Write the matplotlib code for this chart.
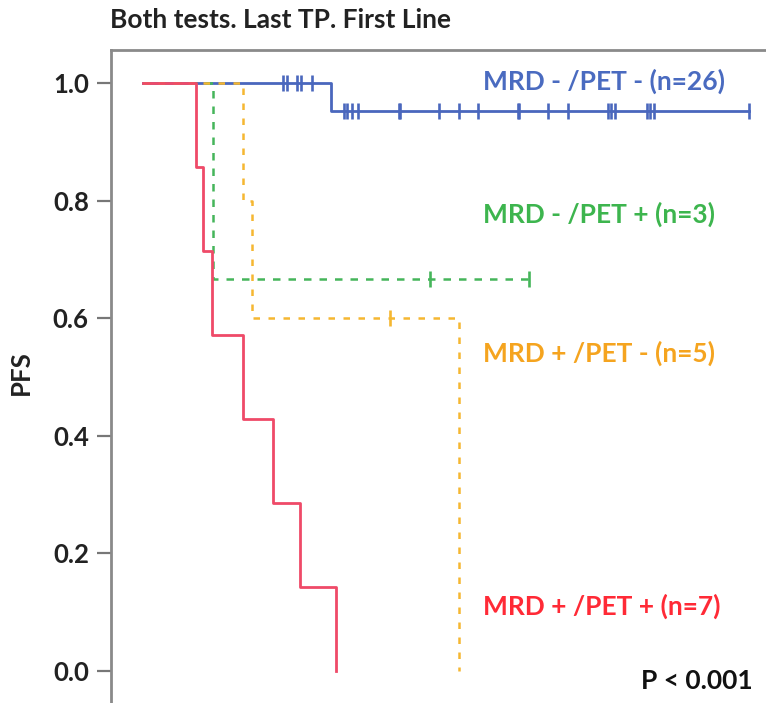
import numpy as np
import matplotlib
matplotlib.use("Agg")
import matplotlib.pyplot as plt

plt.rcParams['font.family'] = ['Lato', 'DejaVu Sans']

# follow-up times (months) and event flags (1 = progression, 0 = censored)
red_times = [5.3, 6.0, 6.9, 10.0, 13.0, 15.7, 19.3]
red_events = [1, 1, 1, 1, 1, 1, 1]

green_times = [7.0, 28.7, 38.6]
green_events = [1, 0, 0]

orange_times = [10.0, 10.9, 24.7, 31.6, 31.6]
orange_events = [1, 1, 0, 1, 1]

blue_times = [14.0, 14.4, 15.4, 15.8, 16.9, 18.8,
              20.1, 20.4, 20.9, 21.5, 25.6, 25.7, 29.6, 31.6, 33.5,
              37.5, 37.6, 40.5, 42.5, 46.5, 46.8, 47.2, 50.4, 50.7, 51.1, 60.6]
blue_events = [0, 0, 0, 0, 0, 1] + [0] * 20

group_labels = ["MRD - /PET - (n=26)", "MRD - /PET + (n=3)",
                "MRD + /PET - (n=5)", "MRD + /PET + (n=7)"]
yticks = [0.0, 0.2, 0.4, 0.6, 0.8, 1.0]


def kaplan_meier(times, events):
    t = np.array(times, dtype=float)
    e = np.array(events)
    order = np.argsort(t, kind="stable")
    t, e = t[order], e[order]
    xs, ys = [0.0], [1.0]
    cens_x, cens_y = [], []
    surv = 1.0
    at_risk = len(t)
    for ut in np.unique(t):
        mask = t == ut
        d = e[mask].sum()
        c = mask.sum() - d
        if d > 0:
            surv *= (at_risk - d) / at_risk
            xs.append(ut)
            ys.append(surv)
        if c > 0:
            cens_x.extend([ut] * c)
            cens_y.extend([surv] * c)
        at_risk -= mask.sum()
    # extend the step to the last follow-up time
    if t.max() > xs[-1]:
        xs.append(t.max())
        ys.append(surv)
    return np.array(xs), np.array(ys), cens_x, cens_y


fig = plt.figure(figsize=(7.66, 7.03), dpi=100)
# axes run past the bottom/right edge of the figure
ax = fig.add_axes([111 / 766, 1 - 50 / 703 - 679.7 / 703, 682 / 766, 679.7 / 703])

series = [
    (blue_times, blue_events, "#4a67bd", "-", None),
    (green_times, green_events, "#45b55a", "--", (3, 3.2)),
    (orange_times, orange_events, "#f5b731", "--", (2.6, 3.4)),
    (red_times, red_events, "#ef4a68", "-", None),
]

for times, events, color, ls, dashes in series:
    xs, ys, cx, cy = kaplan_meier(times, events)
    line, = ax.step(xs, ys, where="post", color=color, lw=2.0 if ls == "-" else 1.8,
                    linestyle=ls, zorder=3)
    if dashes is not None:
        line.set_dashes(dashes)
    ax.plot(cx, cy, linestyle="none", marker="|", markersize=11, mew=1.9,
            color=color, zorder=4)

label_colors = ["#4a6bc0", "#3db54e", "#f5a41f", "#ff2a36"]
label_y = [1.003, 0.777, 0.540, 0.110]
for text, col, yy in zip(group_labels, label_colors, label_y):
    ax.text(34.0, yy, text, color=col, fontsize=19, fontweight="bold",
            va="center", ha="left")

ax.text(61.0, -0.017, "P < 0.001", color="#111111", fontsize=19,
        fontweight="bold", va="center", ha="right")

ax.set_xlim(-3.2, 65)
ax.set_ylim(-0.1, 1.056)
ax.set_yticks(yticks)
ax.set_yticklabels([f"{v:.1f}" for v in yticks], fontsize=18.5, fontweight="bold",
                   color="#222222")
ax.set_xticks([])
ax.tick_params(axis="y", length=10, width=1.6, color="#777777", pad=6)
for side in ["left", "top", "right", "bottom"]:
    ax.spines[side].set_color("#8a8a8a")
    ax.spines[side].set_linewidth(2.0)

ax.set_ylabel("PFS", fontsize=18.5, fontweight="bold", color="#222222")
ax.yaxis.set_label_coords(-0.114, 0.526)

fig.text(110 / 766, 1 - 20 / 703, "Both tests. Last TP. First Line", fontsize=19,
         fontweight="bold", color="#222222", ha="left", va="center")

fig.savefig("out.png", dpi=100)
